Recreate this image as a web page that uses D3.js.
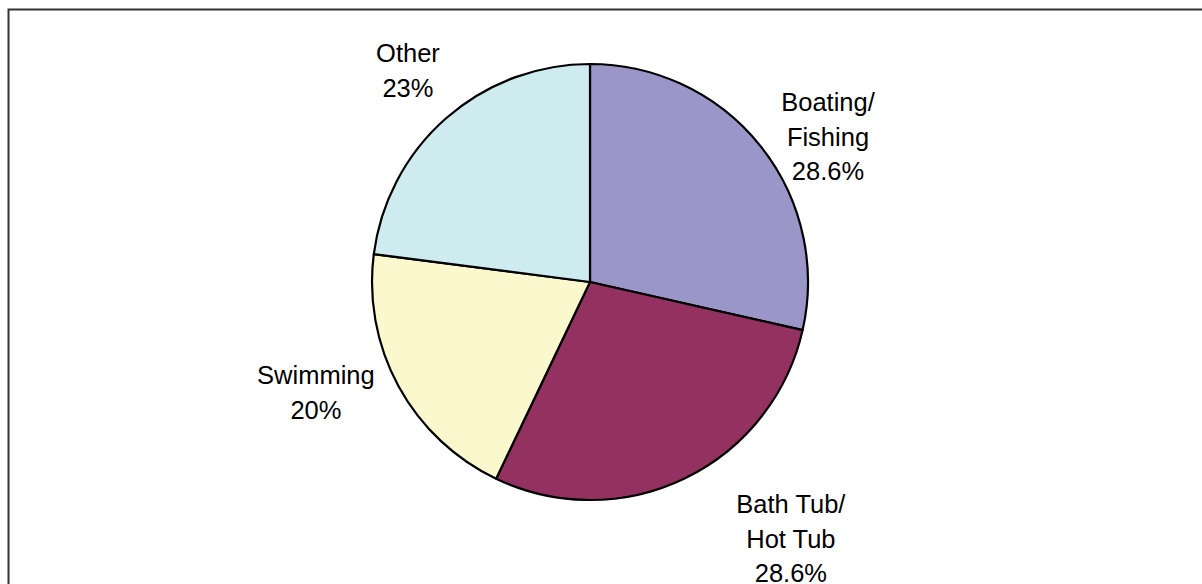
<!DOCTYPE html>
<html>
<head>
<meta charset="utf-8">
<script src="https://cdn.jsdelivr.net/npm/d3@7"></script>
<style>
  html, body { margin: 0; padding: 0; background: #fff; }
  svg { display: block; }
  text { font-family: "Liberation Sans", Arial, sans-serif; }
</style>
</head>
<body>
<svg id="chart" width="1202" height="584"></svg>
<script>
// ---- data ----
const categories = ["Boating/\nFishing", "Bath Tub/\nHot Tub", "Swimming", "Other"];
const values = [28.6, 28.6, 20, 23];
const valueLabels = ["28.6%", "28.6%", "20%", "23%"];
const colors = ["#9a96c8", "#933161", "#fbf8cd", "#ceebf0"];

// ---- layout ----
const W = 1202, H = 584;
const cx = 590, cy = 282, R = 218;
const labelRadius = 300;
const labelNudge = [[3.6, 41.7], [70, -13.4], [-10.6, -33], [16, 13.4]];
const fontSize = 25.5, lineGap = 34.5;

const svg = d3.select("#chart");

// frame (only top/left edges visible in the reference)
svg.append("rect")
  .attr("x", 8.5).attr("y", 9.5)
  .attr("width", 1220).attr("height", 620)
  .attr("fill", "none")
  .attr("stroke", "#333")
  .attr("stroke-width", 2);

const data = categories.map((c, i) => ({ cat: c, value: values[i], label: valueLabels[i], color: colors[i], i }));

const pie = d3.pie().sort(null).value(d => d.value);
const arcs = pie(data);
const arc = d3.arc().innerRadius(0).outerRadius(R);
const labelArc = d3.arc().innerRadius(labelRadius).outerRadius(labelRadius);

const g = svg.append("g").attr("transform", `translate(${cx},${cy})`);

g.selectAll("path.slice")
  .data(arcs)
  .join("path")
  .attr("class", "slice")
  .attr("d", arc)
  .attr("fill", d => d.data.color)
  .attr("stroke", "#000")
  .attr("stroke-width", 2.2)
  .attr("stroke-linejoin", "round");

const labels = g.selectAll("text.lbl")
  .data(arcs)
  .join("text")
  .attr("class", "lbl")
  .attr("text-anchor", "middle")
  .attr("font-size", fontSize)
  .attr("fill", "#000");

labels.each(function(d) {
  const c = labelArc.centroid(d);
  const n = labelNudge[d.data.i];
  const x = c[0] + n[0], y = c[1] + n[1];
  const lines = d.data.cat.split("\n").concat([d.data.label]);
  const t = d3.select(this);
  lines.forEach((ln, k) => {
    t.append("tspan")
      .attr("x", x)
      .attr("y", y + (k - (lines.length - 1) / 2) * lineGap)
      .attr("dy", "0.36em")
      .text(ln);
  });
});
</script>
</body>
</html>
